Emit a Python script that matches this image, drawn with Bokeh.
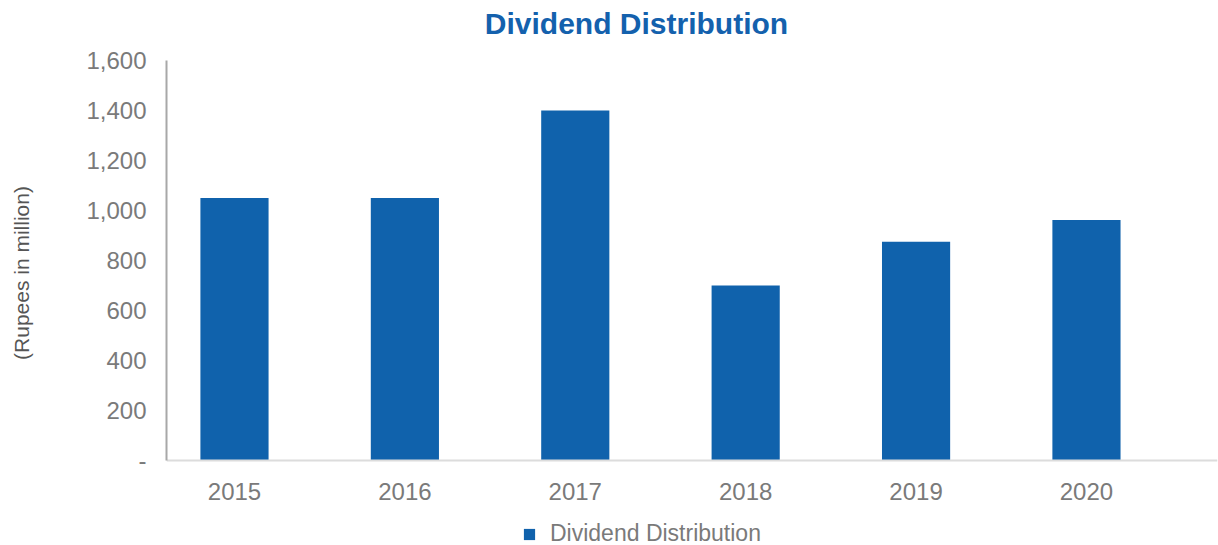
from bokeh.plotting import figure
from bokeh.models import Range1d, FixedTicker, NumeralTickFormatter, Legend, LegendItem, ColumnDataSource, Label
from bokeh.embed import file_html
from bokeh.resources import INLINE

title_text = "Dividend Distribution"
y_axis_title = "(Rupees in million)"
years = ["2015", "2016", "2017", "2018", "2019", "2020"]
dividends = [1050, 1050, 1400, 700, 875, 962]
y_ticks = [0, 200, 400, 600, 800, 1000, 1200, 1400, 1600]

FONT = "Liberation Sans"
BAR = "#1062AC"
GRAY = "#7a7a7a"

idx = list(range(len(years)))
src = ColumnDataSource(dict(x=idx, top=dividends, year=years))

# frame spans the full canvas height; value 0 sits at 460px, 1600 at 60px
p = figure(width=1218, height=545, output_backend="svg", toolbar_location=None,
           x_range=Range1d(-0.399, 5.769), y_range=Range1d(-340, 1840),
           min_border_left=166, min_border_right=1, min_border_top=0, min_border_bottom=0)
p.outline_line_color = None
p.xgrid.grid_line_color = None
p.ygrid.grid_line_color = None
p.background_fill_color = "white"

r = p.vbar(x="x", top="top", width=0.40, source=src, fill_color=BAR, line_color=None)

title = Label(x=2.359, y=1748, text=title_text, text_align="center", text_baseline="alphabetic",
              text_font=FONT, text_font_size="30px", text_font_style="bold", text_color="#1461AD")
p.add_layout(title)

xa = p.xaxis[0]
xa.fixed_location = 0
xa.ticker = FixedTicker(ticks=idx)
xa.major_label_overrides = {i: y for i, y in zip(idx, years)}
xa.major_tick_line_color = None
xa.minor_tick_line_color = None
xa.major_tick_out = 0
xa.major_tick_in = 0
xa.major_label_standoff = 22
xa.major_label_text_font = FONT
xa.major_label_text_font_size = "24px"
xa.major_label_text_color = GRAY
xa.axis_line_color = "#dcdcdc"
xa.axis_line_width = 2

ya = p.yaxis[0]
ya.bounds = (0, 1600)
ya.ticker = FixedTicker(ticks=y_ticks)
ya.formatter = NumeralTickFormatter(format="0,0")
ya.major_label_overrides = {0: "-"}
ya.major_tick_line_color = None
ya.minor_tick_line_color = None
ya.major_tick_out = 0
ya.major_tick_in = 0
ya.major_label_standoff = 20
ya.major_label_text_font = FONT
ya.major_label_text_font_size = "24px"
ya.major_label_text_color = GRAY
ya.axis_line_color = "#a8a8a8"
ya.axis_line_width = 2
ya.axis_label = y_axis_title
ya.axis_label_text_font = FONT
ya.axis_label_text_font_size = "21px"
ya.axis_label_text_font_style = "normal"
ya.axis_label_text_color = "#555555"
ya.axis_label_standoff = 50

legend = Legend(items=[LegendItem(label=title_text, renderers=[r])],
                location=(356, -2), orientation="horizontal",
                glyph_width=14, glyph_height=14, label_standoff=14, label_height=14,
                label_text_font=FONT, label_text_font_size="23px", label_text_color=GRAY,
                label_text_line_height=0.8,
                border_line_color=None, background_fill_alpha=0,
                padding=0, margin=0, spacing=0)
p.add_layout(legend, "center")

open("out.html", "w").write(file_html(p, INLINE))
